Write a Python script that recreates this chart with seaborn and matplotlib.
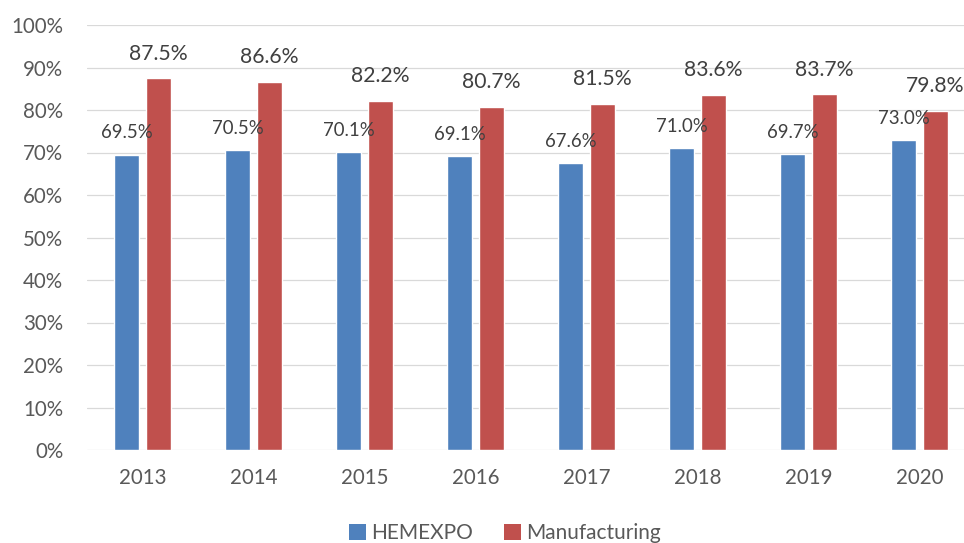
import matplotlib
matplotlib.use("Agg")
import matplotlib.pyplot as plt
from matplotlib.patches import Patch
from matplotlib.ticker import FuncFormatter, MultipleLocator
import pandas as pd
import seaborn as sns

years = ["2013", "2014", "2015", "2016", "2017", "2018", "2019", "2020"]
hemexpo = [69.5, 70.5, 70.1, 69.1, 67.6, 71.0, 69.7, 73.0]
manufacturing = [87.5, 86.6, 82.2, 80.7, 81.5, 83.6, 83.7, 79.8]
series_names = ["HEMEXPO", "Manufacturing"]
colors = ["#4f81bd", "#c0504d"]

df = pd.DataFrame({
    "year": years * 2,
    "value": hemexpo + manufacturing,
    "series": [series_names[0]] * len(years) + [series_names[1]] * len(years),
})

sns.set_theme(style="white")
plt.rcParams["font.family"] = ["Lato", "DejaVu Sans"]
text_color = "#595959"

fig = plt.figure(figsize=(9.64, 5.43), dpi=100)
ax = fig.add_axes([87 / 964, 93 / 543, 888 / 964, 425 / 543])

sns.barplot(data=df, x="year", y="value", hue="series", palette=colors,
            width=0.577, gap=0.22, saturation=1, ax=ax, legend=False,
            errorbar=None)

ax.set_xlim(-0.5, len(years) - 0.5)
ax.set_ylim(0, 100)
ax.yaxis.set_major_locator(MultipleLocator(10))
ax.yaxis.set_major_formatter(FuncFormatter(lambda v, _: f"{v:.0f}%"))
ax.grid(axis="y", color="#d9d9d9", linewidth=0.9)
ax.grid(axis="x", visible=False)
ax.set_axisbelow(True)
for s in ax.spines.values():
    s.set_visible(False)
ax.set_xlabel("")
ax.set_ylabel("")
ax.tick_params(axis="y", length=0, pad=17, labelsize=14.8, labelcolor=text_color)
ax.tick_params(axis="x", length=0, pad=13, labelsize=14.8, labelcolor=text_color)

label_sizes = [13.4, 15.2]
label_pads = [9.5, 10.5]
for cont, size, pad in zip(ax.containers, label_sizes, label_pads):
    ax.bar_label(cont, fmt="{:.1f}%", padding=pad, fontsize=size, color="#404040")

handles = [Patch(facecolor=c, edgecolor="none") for c in colors]
fig.legend(handles, series_names, loc="upper center", bbox_to_anchor=(505 / 964, 20 / 543),
           ncol=2, frameon=False, fontsize=15, labelcolor=text_color,
           handlelength=0.8, handleheight=0.8, handletextpad=0.25, columnspacing=1.5,
           borderaxespad=0, borderpad=0)

fig.savefig("out.png", dpi=100)
